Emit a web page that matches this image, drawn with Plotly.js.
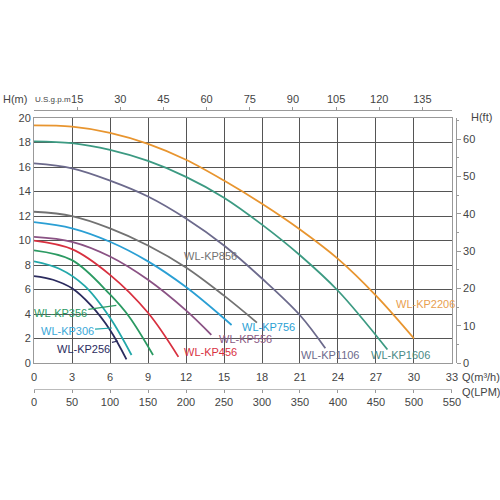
<!DOCTYPE html>
<html>
<head>
<meta charset="utf-8">
<script src="https://cdn.plot.ly/plotly-3.0.1.min.js"></script>
<style>html,body{margin:0;padding:0;background:#fff;}#chart{width:500px;height:500px;}</style>
</head>
<body>
<div id="chart"></div>
<script>
// ---- data (Q in m3/h, H in m) ----
const names = ["WL-KP2206","WL-KP1606","WL-KP1106","WL-KP856","WL-KP756","WL-KP556","WL-KP456","WL-KP356","WL-KP306","WL-KP256"];
const q2206 = [0,3,6,9,12,15,18,21,24,27,30];
const h2206 = [19.4,19.3,18.8,17.9,16.6,14.9,13.0,10.9,8.5,5.5,2.0];
const q1606 = [0,3,6,9,12,15,18,21,24,27.9];
const h1606 = [18.1,17.95,17.4,16.5,15.2,13.5,11.3,8.8,5.9,1.1];
const q1106 = [0,3,6,9,12,15,18,21,23];
const h1106 = [16.3,15.9,14.9,13.6,11.8,9.6,6.9,3.9,1.2];
const q856 = [0,3,6,9,12,15,17.6];
const h856 = [12.35,12.0,11.0,9.6,7.8,5.5,3.3];
const q756 = [0,3,6,9,12,15.6];
const h756 = [11.5,11.0,9.9,8.3,6.2,3.1];
const q556 = [0,3,6,9,12,14];
const h556 = [10.3,9.9,8.7,6.8,4.3,2.3];
const q456 = [0,3,6,9,11.4];
const h456 = [10.0,9.3,7.2,4.1,0.5];
const q356 = [0,3,6,7.5,9.4];
const h356 = [9.2,8.4,5.6,3.8,0.65];
const q306 = [0,2,4,6,7.7];
const h306 = [8.3,7.7,6.3,3.7,0.65];
const q256 = [0,1.5,3,4.5,6,7.3];
const h256 = [7.1,6.8,6.1,4.7,2.7,0.3];

const qTicks = [0,3,6,9,12,15,18,21,24,27,30,33];
const hTicks = [0,2,4,6,8,10,12,14,16,18,20];
const gpmTicks = [15,30,45,60,75,90,105,120,135];
const lpmTicks = [0,50,100,150,200,250,300,350,400,450,500,550];
const ftTicks = [0,10,20,30,40,50,60];

const colors = ["#e8952f","#3c9a82","#6c6a8c","#727272","#2a9fd4","#8a5284","#d8303f","#2b9a62","#22a8aa","#2b2b5e"];
const labelColors = ["#e8a050","#4a8a86","#6c6a8c","#727272","#2a9fd4","#8a5a84","#d8303f","#2b9a62","#3aa8d8","#2b2b5e"];

const Qs = [q2206,q1606,q1106,q856,q756,q556,q456,q356,q306,q256];
const Hs = [h2206,h1606,h1106,h856,h756,h556,h456,h356,h306,h256];

const traces = names.map((n,i)=>({
  x: Qs[i], y: Hs[i], type:'scatter', mode:'lines', name:n,
  line:{color:colors[i], width:1.8, shape:'spline', smoothing:1},
  hoverinfo:'skip', showlegend:false, xaxis:'x', yaxis:'y'
}));
// invisible traces to activate the secondary axes
traces.push({x:[0],y:[0],xaxis:'x2',yaxis:'y',mode:'markers',marker:{opacity:0},showlegend:false,hoverinfo:'skip'});
traces.push({x:[0],y:[0],xaxis:'x3',yaxis:'y',mode:'markers',marker:{opacity:0},showlegend:false,hoverinfo:'skip'});
traces.push({x:[0],y:[0],xaxis:'x',yaxis:'y2',mode:'markers',marker:{opacity:0},showlegend:false,hoverinfo:'skip'});

const M3H_TO_GPM = 4.40287;
const M3H_TO_LPM = 1000/60;
const M_TO_FT = 3.28084;
const font = {family:'"Liberation Sans", Arial, sans-serif', size:11, color:'#444'};

// label placement: [name index, x, y]
const labelPos = [
  [0, 30.9, 4.8],
  [1, 28.9, 0.65],
  [2, 23.4, 0.65],
  [3, 13.9, 8.7],
  [4, 18.5, 2.9],
  [5, 16.7, 2.0],
  [6, 13.9, 0.9],
];
// leader labels: [name index, head x, head y, ax, ay]
const leaderPos = [
  [7, 6.5, 4.7, -56, 8],
  [8, 6.16, 2.86, -45, 3],
  [9, 6.63, 1.8, -34, 8],
];
const annotations = [];
labelPos.forEach(p=>annotations.push({x:p[1],y:p[2],xref:'x',yref:'y',text:names[p[0]],showarrow:false,font:{family:font.family,size:11,color:labelColors[p[0]]}}));
leaderPos.forEach(p=>annotations.push({x:p[1],y:p[2],xref:'x',yref:'y',text:names[p[0]],showarrow:true,arrowhead:0,arrowwidth:1.2,arrowcolor:colors[p[0]],standoff:0,ax:p[3],ay:p[4],font:{family:font.family,size:11,color:labelColors[p[0]]}}));
annotations.push({xref:'paper',yref:'paper',x:-0.075,y:0.966,xanchor:'left',yanchor:'middle',text:'H(m)',showarrow:false,font:font});
annotations.push({xref:'paper',yref:'paper',x:-0.002,y:0.966,xanchor:'left',yanchor:'middle',text:'U.S.g.p.m',showarrow:false,font:{family:font.family,size:8,color:'#444'}});
annotations.push({xref:'paper',yref:'paper',x:0.975,y:0.912,xanchor:'left',yanchor:'middle',text:'H(ft)',showarrow:false,font:font});
annotations.push({xref:'paper',yref:'paper',x:0.955,y:0.115,xanchor:'left',yanchor:'middle',text:'Q(m³/h)',showarrow:false,font:font});
annotations.push({xref:'paper',yref:'paper',x:0.955,y:0.069,xanchor:'left',yanchor:'middle',text:'Q(LPM)',showarrow:false,font:font});

const layout = {
  width:500, height:500,
  margin:{l:34, r:20, t:88, b:85},
  paper_bgcolor:'#fff', plot_bgcolor:'#fff',
  font:font,
  showlegend:false,
  xaxis:{domain:[0,0.9372], range:[0,33], tickvals:qTicks, showgrid:true, gridcolor:'#555', gridwidth:1,
    zeroline:false, showline:true, linecolor:'#999', mirror:true, ticks:'', ticklabelstandoff:4, tickfont:font, fixedrange:true},
  yaxis:{domain:[0.159,0.908], range:[0,20], tickvals:hTicks, showgrid:true, gridcolor:'#555', gridwidth:1,
    zeroline:false, showline:true, linecolor:'#999', mirror:true, ticks:'', tickfont:font, fixedrange:true},
  xaxis2:{overlaying:'x', side:'top', anchor:'free', position:0.933, range:[0,33*M3H_TO_GPM], tickvals:gpmTicks,
    showgrid:false, zeroline:false, showline:true, linecolor:'#999', ticks:'outside', ticklen:3, tickcolor:'#999', tickfont:font},
  xaxis3:{overlaying:'x', side:'bottom', anchor:'free', position:0.0795, range:[0,33*M3H_TO_LPM], tickvals:lpmTicks,
    showgrid:false, zeroline:false, showline:true, linecolor:'#bbb', ticks:'outside', ticklen:3, tickcolor:'#999', tickfont:font},
  yaxis2:{overlaying:'y', side:'right', anchor:'free', position:0.946, range:[0,20*M_TO_FT], tickvals:ftTicks,
    minor:{dtick:5, ticks:'outside', ticklen:2, tickcolor:'#999'},
    showgrid:false, zeroline:false, showline:true, linecolor:'#999', ticks:'outside', ticklen:4, tickcolor:'#999', tickfont:font},
  annotations:annotations
};
Plotly.newPlot('chart', traces, layout, {staticPlot:true, displayModeBar:false});
</script>
</body>
</html>
